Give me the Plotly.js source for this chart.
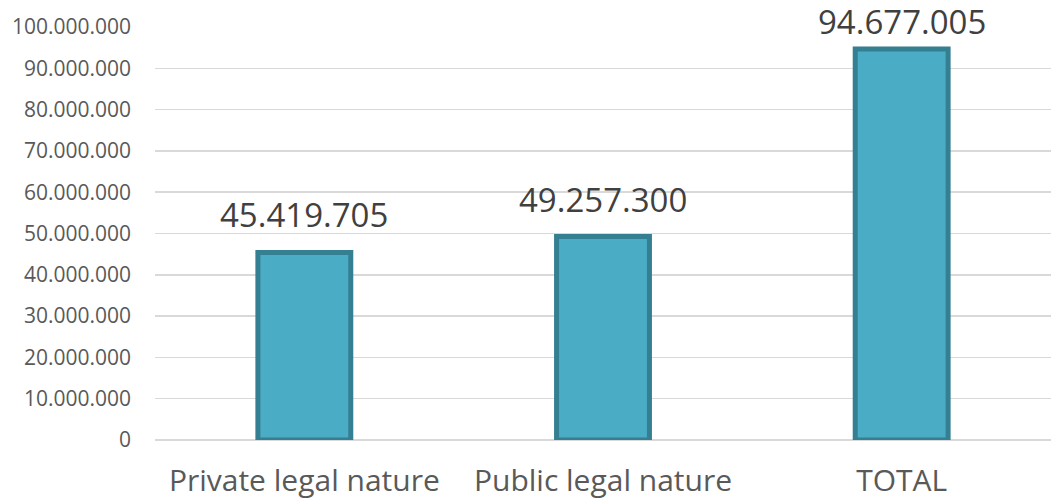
<!DOCTYPE html>
<html>
<head>
<meta charset="utf-8">
<script src="https://cdn.plot.ly/plotly-3.0.1.min.js"></script>
<style>html,body{margin:0;padding:0;background:#fff;}#chart{width:1051px;height:501px;}</style>
</head>
<body>
<div id="chart"></div>
<script>
var categories = ["Private legal nature", "Public legal nature", "TOTAL"];
var values = [45419705, 49257300, 94677005];
var tickValues = [0, 10000000, 20000000, 30000000, 40000000, 50000000, 60000000, 70000000, 80000000, 90000000, 100000000];
var yMax = 100000000;

var H = 501, mT = 27, mB = 61;
var plotH = H - mT - mB;

function fmt(v) {
  return String(v).replace(/\B(?=(\d{3})+(?!\d))/g, '.');
}

// data labels: sit above the bar, but pushed down to stay inside the chart top
var annotations = categories.map(function (c, i) {
  var barTopPx = mT + (1 - values[i] / yMax) * plotH;
  var shift = Math.min(13, barTopPx - 9 - 37);
  return {
    x: c, y: values[i], xref: 'x', yref: 'y',
    text: fmt(values[i]), showarrow: false,
    yanchor: 'bottom', xanchor: 'center', yshift: shift,
    font: {family: 'Open Sans, sans-serif', size: 33, color: '#404040'}
  };
});

var trace = {
  type: 'bar',
  x: categories,
  y: values,
  width: 0.311,
  marker: {color: '#4BACC6', line: {color: '#357F92', width: 5}},
  hoverinfo: 'none'
};

var layout = {
  width: 1051, height: H,
  margin: {l: 155, r: 0, t: mT, b: mB},
  paper_bgcolor: '#fff', plot_bgcolor: '#fff',
  separators: ',.',
  showlegend: false,
  annotations: annotations,
  xaxis: {
    type: 'category',
    tickfont: {family: 'Open Sans, sans-serif', size: 30, color: '#595959'},
    showline: false, showgrid: false, ticks: '', ticklabelstandoff: 20
  },
  yaxis: {
    range: [0, yMax],
    tickvals: tickValues,
    tickformat: ',d',
    tickfont: {family: 'Open Sans, sans-serif', size: 21, color: '#595959'},
    gridcolor: '#D9D9D9', gridwidth: 1.5,
    zeroline: true, zerolinecolor: '#D9D9D9', zerolinewidth: 1.5,
    showline: false, ticks: '', ticklabelstandoff: 23
  }
};

Plotly.newPlot('chart', [trace], layout, {staticPlot: true, displayModeBar: false});
</script>
</body>
</html>
